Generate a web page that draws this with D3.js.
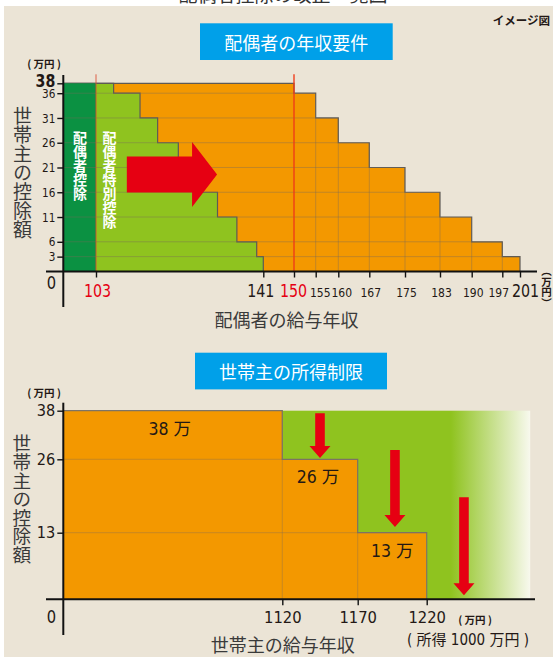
<!DOCTYPE html>
<html><head><meta charset="utf-8">
<script src="https://cdn.jsdelivr.net/npm/d3@7"></script>
<style>
html,body{margin:0;padding:0;background:#fff;}
svg{display:block;}
</style></head><body>
<svg id="c" width="553" height="657"></svg>
<script>
// ---------- data ----------
const incomeTicksTop = [103,141,150,155,160,167,175,183,190,197,201];
const bigIncomeTicks = [103,141,150,201];
const redIncomeTicks = [103,150];
const deductionTicksTop = [3,6,11,16,21,26,31,36,38];
const spouseLimit = 103;
const spouseAmount = 38;
const oldSpecialUpper = [107,113,117,121.7,126,130.6,135,139.5,141];
const oldSpecialAmount = [38,36,31,26,21,16,11,6,3];
const newSpecialUpper = [150,155,160,167,175,183,190,197,201];
const newSpecialAmount = [38,36,31,26,21,16,11,6,3];
const topArrowFrom = 110, topArrowTo = 130.5, topArrowLevel = 19.6;

const headIncomeTicks = [1120,1170,1220];
const headDeductionTicks = [13,26,38];
const headLimitUpper = [1120,1170,1220];
const headDeduction = [38,26,13];
const headLabels = ["38 万","26 万","13 万"];
const headGreenEnd = 1295;
const headArrowX = [1145,1197,1247];
const headArrowFrom = [37.4,28.3,19.3];
const headArrowTo = [26.3,14,0.8];

// ---------- style ----------
const NUM = '"DejaVu Sans Condensed","Liberation Sans","Noto Sans CJK JP",sans-serif';
const JP = '"Noto Sans CJK JP","Noto Sans",sans-serif';
const COL = {dark:"#0b9142", light:"#8fc31f", orange:"#f39800", red:"#e60012",
  blue:"#00a0e9", bg:"#ebe4d6", ink:"#231815", title:"#3a3a3a"};

const svg = d3.select("#c");
const defs = svg.append("defs");

function fit(sel, k){
  sel.each(function(){
    const el=d3.select(this), s=+el.attr("font-size"), n=el.text().length;
    el.attr("textLength", n*k*s).attr("lengthAdjust","spacingAndGlyphs");
  });
}

// page header (cut off) and panel
svg.append("text").attr("x",283).attr("y",2).attr("text-anchor","middle")
  .attr("font-family",JP).attr("font-size",19).attr("fill","#333").text("配偶者控除の改正一覧図");
svg.append("rect").attr("x",4).attr("y",6).attr("width",549).attr("height",651).attr("fill",COL.bg);
svg.append("text").attr("x",550).attr("y",25).attr("text-anchor","end")
  .attr("font-family",JP).attr("font-size",11.5).attr("font-weight","bold").attr("fill",COL.ink).text("イメージ図");

function titleBox(x,y,w,h,str){
  svg.append("rect").attr("x",x).attr("y",y).attr("width",w).attr("height",h).attr("fill",COL.blue);
  svg.append("text").attr("x",x+w/2).attr("y",y+h/2).attr("text-anchor","middle")
    .attr("dominant-baseline","central").attr("font-family",JP).attr("font-size",18)
    .attr("fill","#fff").text(str);
}
function vtext(x,y,str,size,fill,weight){
  return svg.append("text").attr("x",x).attr("y",y)
    .style("writing-mode","vertical-rl").style("text-orientation","upright")
    .attr("font-family",JP).attr("font-size",size).attr("fill",fill)
    .attr("font-weight",weight||"normal").text(str);
}
function stepPts(upper,amt){
  const p=[{x:0,y:amt[0]}];
  for(let i=0;i<upper.length-1;i++) p.push({x:upper[i],y:amt[i+1]});
  p.push({x:upper[upper.length-1],y:0});
  return p;
}

// =============== TOP CHART ===============
titleBox(200,23.3,192.7,36.7,"配偶者の年収要件");
const xT = d3.scaleLinear().domain([0,...incomeTicksTop])
  .range([63.3,96,263.3,294,315.7,338.3,369.3,405,440,471.7,502.3,520]);
const yT = d3.scaleLinear().domain([0,38]).range([271.5,83.3]);

const areaT = d3.area().curve(d3.curveStepAfter).x(d=>xT(d.x)).y0(yT(0)).y1(d=>yT(d.y));
const lineT = d3.line().curve(d3.curveStepAfter).x(d=>xT(d.x)).y(d=>yT(d.y));
const newPts = stepPts(newSpecialUpper,newSpecialAmount);
const oldPts = stepPts(oldSpecialUpper,oldSpecialAmount);

defs.append("clipPath").attr("id","clipTop").append("path").attr("d",areaT(newPts));

const gT = svg.append("g");
gT.append("path").attr("d",areaT(newPts)).attr("fill",COL.orange);
gT.append("path").attr("d",lineT(newPts)).attr("fill","none").attr("stroke","#5e5a55").attr("stroke-width",1.2);
gT.append("path").attr("d",areaT(oldPts)).attr("fill",COL.light);
gT.append("path").attr("d",lineT(oldPts)).attr("fill","none").attr("stroke","#5e5a55").attr("stroke-width",1.2);
gT.append("rect").attr("x",xT(0)).attr("y",yT(spouseAmount))
  .attr("width",xT(spouseLimit)-xT(0)).attr("height",yT(0)-yT(spouseAmount)).attr("fill",COL.dark);

// grid
const gridT = gT.append("g").attr("clip-path","url(#clipTop)")
  .attr("stroke","#7a6a5a").attr("stroke-opacity",0.45).attr("stroke-width",0.9);
gridT.selectAll("line.h").data(deductionTicksTop.filter(d=>d<38)).join("line")
  .attr("x1",xT(0)).attr("x2",xT(201)).attr("y1",d=>yT(d)).attr("y2",d=>yT(d));
gridT.selectAll("line.v").data(incomeTicksTop.filter(d=>d>150&&d<201)).join("line")
  .attr("x1",d=>xT(d)).attr("x2",d=>xT(d)).attr("y1",yT(0)).attr("y2",yT(38));

// red reference lines
gT.selectAll("line.ref").data(redIncomeTicks).join("line")
  .attr("x1",d=>xT(d)).attr("x2",d=>xT(d)).attr("y1",yT(38)-9).attr("y2",yT(0))
  .attr("stroke",d=>d===150?"#ee3a18":"#dc4a30").attr("stroke-opacity",0.85)
  .attr("stroke-width",d=>d===150?1.6:1);

// arrow
{
  const s=xT(topArrowFrom), t=xT(topArrowTo), b=t-25, c=yT(topArrowLevel);
  gT.append("path").attr("fill",COL.red)
    .attr("d",d3.line()([[s,c-18],[b,c-18],[b,c-32.5],[t,c],[b,c+32.5],[b,c+18],[s,c+18]])+"Z");
}
vtext(80,131,"配偶者控除",14,"#fff","bold");
vtext(109.5,131,"配偶者特別控除",14,"#fff","bold");

// axes
const axT = svg.append("g");
axT.append("line").attr("x1",46).attr("x2",537).attr("y1",yT(0)).attr("y2",yT(0)).attr("stroke","#111").attr("stroke-width",2);
axT.append("line").attr("x1",xT(0)).attr("x2",xT(0)).attr("y1",75).attr("y2",307).attr("stroke","#111").attr("stroke-width",2);
const xAxT = axT.append("g").attr("transform",`translate(0,${yT(0)})`)
  .call(d3.axisBottom(xT).tickValues(incomeTicksTop).tickSize(6).tickFormat(d3.format("d")));
xAxT.select(".domain").remove();
xAxT.selectAll(".tick line").attr("stroke","#111").attr("stroke-width",1.4);
xAxT.selectAll(".tick text").attr("y",25.5).attr("dy",0).attr("font-family",NUM)
  .attr("font-size",d=>bigIncomeTicks.includes(d)?18.5:12.5)
  .attr("fill",d=>redIncomeTicks.includes(d)?COL.red:COL.ink)
  .attr("dx",d=>d===201?5:(d===141?-3:(d===197?-4:(d===150?-1:(d===155?4:(d===160?3:1))))));
fit(xAxT.selectAll(".tick text").filter(d=>bigIncomeTicks.includes(d)),0.49);
fit(xAxT.selectAll(".tick text").filter(d=>!bigIncomeTicks.includes(d)),0.55);
const yAxT = axT.append("g").attr("transform",`translate(${xT(0)},0)`)
  .call(d3.axisLeft(yT).tickValues(deductionTicksTop).tickSize(6).tickPadding(2));
yAxT.select(".domain").remove();
yAxT.selectAll(".tick line").attr("stroke","#111").attr("stroke-width",1.4);
yAxT.selectAll(".tick text").attr("font-family",NUM).attr("fill",COL.ink)
  .attr("font-size",d=>d===38?17:12.8).attr("font-weight",d=>d===38?"bold":"normal")
  .attr("y",d=>d===38?-2.5:0);
fit(yAxT.selectAll(".tick text").filter(d=>d!==38),0.52);
fit(yAxT.selectAll(".tick text").filter(d=>d===38),0.58);
fit(svg.append("text").attr("x",51.5).attr("y",289).attr("text-anchor","middle")
  .attr("font-family",NUM).attr("font-size",17).attr("fill",COL.ink).text("0"),0.55);
svg.append("text").attr("x",44).attr("y",68).attr("text-anchor","middle")
  .attr("font-family",JP).attr("font-size",10.5).attr("font-weight","bold").attr("fill",COL.ink).text("( 万円 )");
vtext(546.5,266,"（万円）",10.5,COL.ink,"bold");
vtext(22.5,106,"世帯主の控除額",19,COL.title);
svg.append("text").attr("x",286.5).attr("y",319).attr("text-anchor","middle").attr("dominant-baseline","central")
  .attr("font-family",JP).attr("font-size",18).attr("fill",COL.title).text("配偶者の給与年収");

// =============== BOTTOM CHART ===============
titleBox(195,352.7,192,36.7,"世帯主の所得制限");
const xB = d3.scaleLinear().domain([0,...headIncomeTicks]).range([63.3,282.3,357.7,426.7]);
const yB = d3.scaleLinear().domain([0,...headDeductionTicks]).range([599.3,532.7,459.3,410.7]);

const grad = defs.append("linearGradient").attr("id","fade").attr("x1",0).attr("x2",1).attr("y1",0).attr("y2",0);
grad.append("stop").attr("offset",0).attr("stop-color",COL.light);
grad.append("stop").attr("offset",0.83).attr("stop-color",COL.light);
grad.append("stop").attr("offset",1).attr("stop-color","#f8f9ee");

const gB = svg.append("g");
gB.append("rect").attr("x",xB(0)).attr("y",yB(38)).attr("width",xB(headGreenEnd)-xB(0))
  .attr("height",yB(0)-yB(38)).attr("fill","url(#fade)");
const headPts = stepPts(headLimitUpper,headDeduction);
const areaB = d3.area().curve(d3.curveStepAfter).x(d=>xB(d.x)).y0(yB(0)).y1(d=>yB(d.y));
const lineB = d3.line().curve(d3.curveStepAfter).x(d=>xB(d.x)).y(d=>yB(d.y));
defs.append("clipPath").attr("id","clipBot").append("path").attr("d",areaB(headPts));
gB.append("path").attr("d",areaB(headPts)).attr("fill",COL.orange);
gB.append("path").attr("d",lineB(headPts)).attr("fill","none").attr("stroke","#7d7466").attr("stroke-width",1.2);
const gridB = gB.append("g").attr("clip-path","url(#clipBot)")
  .attr("stroke","#7a6a5a").attr("stroke-opacity",0.4).attr("stroke-width",0.9);
gridB.selectAll("line.h").data(headDeductionTicks.filter(d=>d<38)).join("line")
  .attr("x1",xB(0)).attr("x2",xB(1220)).attr("y1",d=>yB(d)).attr("y2",d=>yB(d));
gridB.selectAll("line.v").data(headIncomeTicks.filter(d=>d<1220)).join("line")
  .attr("x1",d=>xB(d)).attr("x2",d=>xB(d)).attr("y1",yB(0)).attr("y2",yB(38));

gB.selectAll("text.lab").data(headDeduction).join("text")
  .attr("x",(d,i)=>(xB(i?headLimitUpper[i-1]:0)+xB(headLimitUpper[i]))/2 - (i===0?3:(i===1?2:0)))
  .attr("y",d=>yB(d)+18).attr("dominant-baseline","central").attr("text-anchor","middle")
  .attr("font-family",NUM).attr("font-size",17.5).attr("fill",COL.ink).text((d,i)=>headLabels[i]);

gB.selectAll("path.arr").data(headArrowX).join("path").attr("fill",COL.red)
  .attr("d",(d,i)=>{
    const c=xB(d), t0=yB(headArrowFrom[i]), t=yB(headArrowTo[i]), h=t-12;
    return d3.line()([[c-4.8,t0],[c+4.8,t0],[c+4.8,h],[c+10.5,h],[c,t],[c-10.5,h],[c-4.8,h]])+"Z";
  });

const axB = svg.append("g");
axB.append("line").attr("x1",46).attr("x2",535).attr("y1",yB(0)).attr("y2",yB(0)).attr("stroke","#111").attr("stroke-width",2);
axB.append("line").attr("x1",xB(0)).attr("x2",xB(0)).attr("y1",402.7).attr("y2",635).attr("stroke","#111").attr("stroke-width",2);
const xAxB = axB.append("g").attr("transform",`translate(0,${yB(0)})`)
  .call(d3.axisBottom(xB).tickValues(headIncomeTicks).tickSize(6).tickFormat(d3.format("d")));
xAxB.select(".domain").remove();
xAxB.selectAll(".tick line").attr("stroke","#111").attr("stroke-width",1.4);
xAxB.selectAll(".tick text").attr("y",24).attr("dy",0).attr("font-family",NUM)
  .attr("font-size",16.5).attr("fill",COL.ink);
fit(xAxB.selectAll(".tick text"),0.57);
const yAxB = axB.append("g").attr("transform",`translate(${xB(0)},0)`)
  .call(d3.axisLeft(yB).tickValues(headDeductionTicks).tickSize(6).tickPadding(2));
yAxB.select(".domain").remove();
yAxB.selectAll(".tick line").attr("stroke","#111").attr("stroke-width",1.4);
yAxB.selectAll(".tick text").attr("font-family",NUM).attr("fill",COL.ink).attr("font-size",16.5);
fit(yAxB.selectAll(".tick text"),0.56);
fit(svg.append("text").attr("x",51.5).attr("y",623).attr("text-anchor","middle")
  .attr("font-family",NUM).attr("font-size",17).attr("fill",COL.ink).text("0"),0.55);
svg.append("text").attr("x",44).attr("y",397).attr("text-anchor","middle")
  .attr("font-family",JP).attr("font-size",10.5).attr("font-weight","bold").attr("fill",COL.ink).text("( 万円 )");
svg.append("text").attr("x",475).attr("y",624).attr("text-anchor","middle")
  .attr("font-family",JP).attr("font-size",10.5).attr("font-weight","bold").attr("fill",COL.ink).text("( 万円 )");
svg.append("text").attr("x",468).attr("y",644.5).attr("text-anchor","middle")
  .attr("font-family",NUM).attr("font-size",15).attr("fill",COL.ink).text("( 所得 1000 万円 )");
vtext(21.7,434,"世帯主の控除額",18.6,COL.title);
svg.append("text").attr("x",282.7).attr("y",644).attr("text-anchor","middle").attr("dominant-baseline","central")
  .attr("font-family",JP).attr("font-size",18).attr("fill",COL.title).text("世帯主の給与年収");
</script>
</body></html>
